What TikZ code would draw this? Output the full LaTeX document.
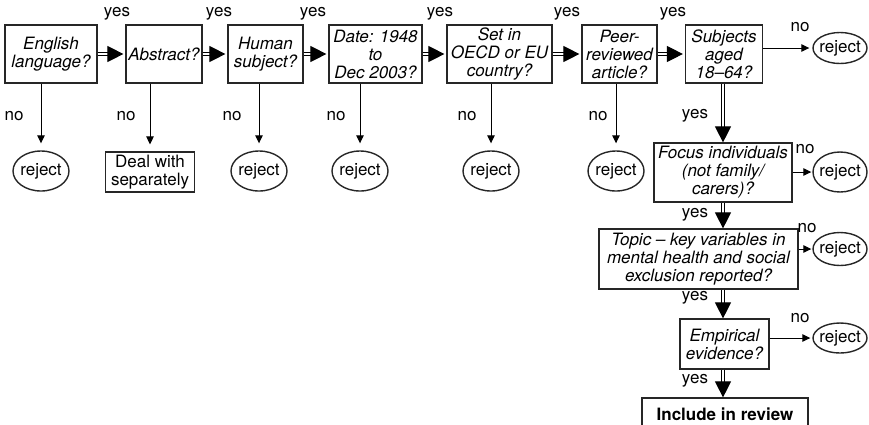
\documentclass[tikz,border=0pt]{standalone}
\usepackage{fontspec}
\setmainfont{TeX Gyre Heros}
\usetikzlibrary{arrows.meta,shapes.geometric}
\begin{document}
\begin{tikzpicture}[x=1pt,y=-1pt,
  font=\fontsize{17}{18}\selectfont,
  q/.style={draw=black!85, line width=1.2pt, inner sep=0pt, align=center, font=\fontsize{17}{18}\selectfont\itshape},
  plainbox/.style={draw=black!85, line width=1.2pt, inner sep=0pt, align=center},
  rej/.style={draw=black!85, ellipse, line width=1.4pt, inner xsep=-5pt, inner ysep=0pt, minimum width=56pt, minimum height=38pt},
  noarr/.style={line width=1pt, -{Triangle[length=8pt,width=7.5pt]}},
  yesarr/.style={double, double distance=1.8pt, line width=1.1pt, -{Triangle[length=16pt,width=16pt]}},
  lab/.style={inner sep=0pt}]
\useasboundingbox (0,0) rectangle (869,424);
% top row
\node[q, minimum width=92pt, minimum height=58pt] (eng) at (51,54) {English\\language?};
\node[q, minimum width=76pt, minimum height=58pt] (abs) at (164,54) {Abstract?};
\node[q, minimum width=75pt, minimum height=58pt] (hum) at (265.5,54) {Human\\subject?};
\node[q, minimum width=93pt, minimum height=58pt] (date) at (375.5,54) {Date: 1948\\to\\Dec 2003?};
\node[q, minimum width=105pt, minimum height=58pt] (oecd) at (499.5,54) {Set in\\OECD or EU\\country?};
\node[q, minimum width=75pt, minimum height=58pt] (peer) at (619.5,54) {Peer-\\reviewed\\article?};
\node[q, minimum width=77pt, minimum height=58pt] (subj) at (724,54) {Subjects\\aged\\18--64?};
% bottom row
\node[rej, minimum height=40pt] (r1) at (41,171) {reject};
\node[plainbox, minimum width=89pt, minimum height=40pt] (deal) at (150,172) {Deal with\\separately};
\node[rej, minimum height=40pt] (r3) at (259,171) {reject};
\node[rej, minimum height=40pt] (r4) at (360,171) {reject};
\node[rej, minimum height=40pt] (r5) at (491,171) {reject};
\node[rej, minimum height=40pt] (r6) at (616,171) {reject};
% right column
\node[rej, minimum width=54pt, minimum height=31pt] (rs) at (840,48) {reject};
\node[q, minimum width=138pt, minimum height=59pt] (focus) at (723,172.5) {Focus individuals\\(not family/\\carers)?};
\node[rej, minimum width=54pt, minimum height=40pt] (rf) at (840,172) {reject};
\node[q, minimum width=199pt, minimum height=60pt] (topic) at (698.5,259) {Topic -- key variables in\\mental health and social\\exclusion reported?};
\node[rej, minimum width=54pt, minimum height=33pt] (rt) at (840,249) {reject};
\node[q, minimum width=89pt, minimum height=50pt] (emp) at (724.5,344) {Empirical\\evidence?};
\node[rej, minimum width=54pt, minimum height=30pt] (re) at (840,338) {reject};
\node[plainbox, minimum width=166pt, minimum height=32pt, font=\fontsize{17}{18}\selectfont\bfseries] (inc) at (725,414) {Include in review};
% yes arrows (horizontal)
\draw[yesarr, shorten >=2pt] (eng) -- (abs);
\draw[yesarr, shorten >=2pt] (abs) -- (hum);
\draw[yesarr, shorten >=2pt] (hum) -- (date);
\draw[yesarr, shorten >=2pt] (date) -- (oecd);
\draw[yesarr, shorten >=2pt] (oecd) -- (peer);
\draw[yesarr, shorten >=2pt] (peer) -- (subj);
% yes arrows (vertical)
\draw[yesarr] (subj.south -| focus.north) -- (focus.north);
\draw[yesarr] (focus.south) -- (topic.north -| focus.south);
\draw[yesarr] (topic.south -| focus.south) -- (emp.north -| focus.south);
\draw[yesarr] (emp.south -| focus.south) -- (inc.north -| focus.south);
% no arrows
\draw[noarr, shorten >=7pt] (eng.south -| r1.north) -- (r1.north);
\draw[noarr, shorten >=7pt] (abs.south -| deal.north) -- (deal.north);
\draw[noarr, shorten >=7pt] (hum.south -| r3.north) -- (r3.north);
\draw[noarr, shorten >=7pt] (date.south -| r4.north) -- (r4.north);
\draw[noarr, shorten >=7pt] (oecd.south -| r5.north) -- (r5.north);
\draw[noarr, shorten >=7pt] (peer.south -| r6.north) -- (r6.north);
\draw[noarr, shorten >=3pt] (subj.east |- rs.west) -- (rs.west);
\draw[noarr, shorten >=1pt] (focus.east |- rf.west) -- (rf.west);
\draw[noarr, shorten >=1pt] (topic.east |- rt.west) -- (rt.west);
\draw[noarr, shorten >=2pt] (emp.east |- re.west) -- (re.west);
% labels
\node[lab] (y1) at (117,14) {yes};
\node[lab] (y2) at (219,14) {yes};
\node[lab] (y3) at (313,14) {yes};
\node[lab] (y4) at (440,14) {yes};
\node[lab] (y5) at (567,14) {yes};
\node[lab] (y6) at (673,14) {yes};
\node[lab] (n1) at (14,116) {no};
\node[lab] (n2) at (126,116) {no};
\node[lab] (n3) at (232,116) {no};
\node[lab] (n4) at (336,116) {no};
\node[lab] (n5) at (467,116) {no};
\node[lab] (n6) at (598,116) {no};
\node[lab] (n7) at (800,27) {no};
\node[lab] (n8) at (805,149) {no};
\node[lab] (n9) at (807,228) {no};
\node[lab] (n10) at (800,318) {no};
\node[lab] (y7) at (695,116) {yes};
\node[lab] (y8) at (695,215) {yes};
\node[lab] (y9) at (695,298) {yes};
\node[lab] (y10) at (695,381) {yes};
\end{tikzpicture}
\end{document}
